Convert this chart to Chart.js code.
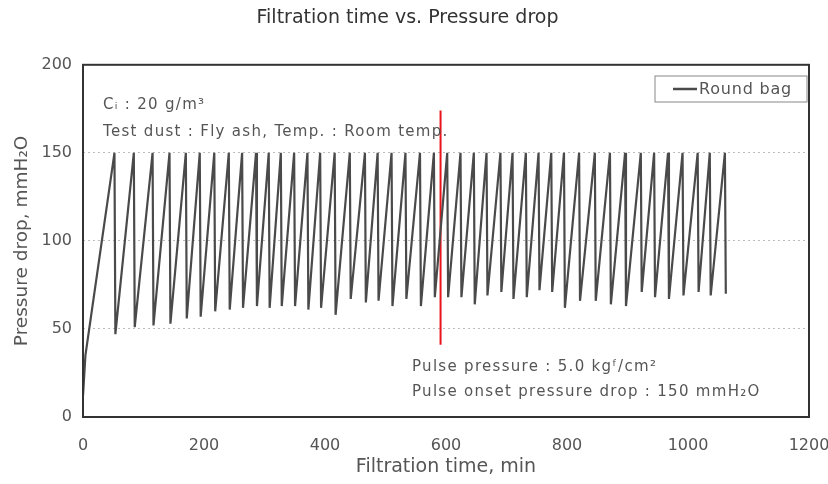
<!DOCTYPE html>
<html>
<head>
<meta charset="utf-8">
<script src="https://cdn.jsdelivr.net/npm/chart.js@4/dist/chart.umd.min.js"></script>
<style>
  html, body { margin: 0; padding: 0; background: #fff; }
  #wrap { width: 828px; height: 484px; }
</style>
</head>
<body>
<div id="wrap"><canvas id="chart" width="828" height="484"></canvas></div>
<script>
// start of the run, before the first pulse
const startTimes = [0, 4];
const startValues = [12, 35];

// pulse times (min) and pressure drop right after each pulse (mmH2O)
const pulseTimes = [52, 84, 115, 143, 170, 193, 217, 241, 263, 286, 307, 327, 349, 371, 392,
  416, 441, 466, 487, 510, 533, 557, 580, 602, 624, 646, 667, 690, 710, 732, 753, 774, 795,
  820, 846, 871, 896, 922, 944, 967, 991, 1016, 1036, 1061];
const troughValues = [47, 51, 52, 53, 56, 57, 60, 61, 62, 63, 62, 63, 63, 61, 62,
  58, 67, 65, 66, 63, 67, 63, 68, 68, 68, 64, 69, 71, 67, 68, 72, 71, 62,
  66, 66, 64, 63, 71, 68, 67, 69, 71, 69, 70];
const onsetPressure = 150;

// red marker line
const markerTime = 591;
const markerRange = [41, 174];

const xTicks = [0, 200, 400, 600, 800, 1000, 1200];
const yTicks = [0, 50, 100, 150, 200];

const trace = startTimes.map((t, i) => ({ x: t, y: startValues[i] }));
pulseTimes.forEach((t, i) => {
  trace.push({ x: t, y: onsetPressure });
  trace.push({ x: t + 1.5, y: troughValues[i] });
});

const textColor = "#555";
const labelFont = "'DejaVu Sans', sans-serif";

const extras = {
  id: "extras",
  afterDraw(chart) {
    const { ctx, chartArea: a } = chart;
    ctx.save();
    // plot frame
    ctx.strokeStyle = "#333";
    ctx.lineWidth = 2;
    ctx.strokeRect(a.left, a.top, a.right - a.left, a.bottom - a.top);

    // notes
    ctx.fillStyle = textColor;
    ctx.font = "15px " + labelFont;
    ctx.letterSpacing = "1.3px";
    ctx.textBaseline = "middle";
    ctx.textAlign = "left";
    ctx.fillText("C\u1d62 : 20 g/m\u00b3", 103, 105);
    ctx.fillText("Test dust : Fly ash, Temp. : Room temp.", 103, 132);
    ctx.fillText("Pulse pressure : 5.0 kg\u1da0/cm\u00b2", 412, 367);
    ctx.fillText("Pulse onset pressure drop : 150 mmH\u2082O", 412, 392);

    // legend box
    const ds = chart.data.datasets[0];
    ctx.strokeStyle = "#888";
    ctx.lineWidth = 1;
    ctx.strokeRect(655, 76, 152, 26);
    ctx.strokeStyle = ds.borderColor;
    ctx.lineWidth = 2.5;
    ctx.beginPath();
    ctx.moveTo(673, 89);
    ctx.lineTo(697, 89);
    ctx.stroke();
    ctx.font = "16px " + labelFont;
    ctx.letterSpacing = "0.8px";
    ctx.fillText(ds.label, 699, 90);
    ctx.restore();
  }
};

new Chart(document.getElementById("chart"), {
  type: "line",
  data: {
    datasets: [
      {
        label: "Round bag",
        data: trace,
        borderColor: "#4a4a4a",
        borderWidth: 2.2,
        pointRadius: 0,
        tension: 0,
      },
      {
        label: "marker",
        data: markerRange.map((v) => ({ x: markerTime, y: v })),
        borderColor: "#e8141a",
        borderWidth: 2,
        pointRadius: 0,
      },
    ],
  },
  options: {
    responsive: false,
    animation: false,
    layout: { padding: { top: 0, right: 19, bottom: 6, left: 6 } },
    plugins: {
      legend: { display: false },
      tooltip: { enabled: false },
      title: {
        display: true,
        text: "Filtration time vs. Pressure drop",
        color: "#333",
        font: { size: 19, family: labelFont, weight: "normal" },
        padding: { top: 7, bottom: 35 },
      },
    },
    scales: {
      x: {
        type: "linear",
        min: 0,
        max: 1200,
        afterBuildTicks: (axis) => { axis.ticks = xTicks.map((v) => ({ value: v })); },
        afterFit: (axis) => {
          axis.paddingLeft = 0;
          axis.paddingRight = 0;
          axis.height = 61;
        },
        grid: { display: false, drawTicks: false },
        border: { display: false },
        ticks: {
          color: textColor,
          padding: 19,
          font: { size: 16, family: labelFont },
          callback: (v) => String(v),
        },
        title: {
          display: true,
          text: "Filtration time, min",
          color: textColor,
          font: { size: 19, family: labelFont },
          padding: { top: 2, bottom: 0 },
        },
      },
      y: {
        type: "linear",
        min: 0,
        max: 200,
        afterBuildTicks: (axis) => { axis.ticks = yTicks.map((v) => ({ value: v })); },
        afterFit: (axis) => { axis.width = 77; },
        grid: {
          drawTicks: false,
          color: (c) => (c.tick.value === 0 || c.tick.value === 200 ? "transparent" : "#bdbdbd"),
        },
        border: { display: false, dash: [2, 3] },
        ticks: { color: textColor, padding: 11, font: { size: 16, family: labelFont } },
        title: {
          display: true,
          text: "Pressure drop, mmH\u2082O",
          color: textColor,
          font: { size: 18.5, family: labelFont },
          padding: { top: 5, bottom: 8 },
        },
      },
    },
  },
  plugins: [extras],
});
</script>
</body>
</html>
